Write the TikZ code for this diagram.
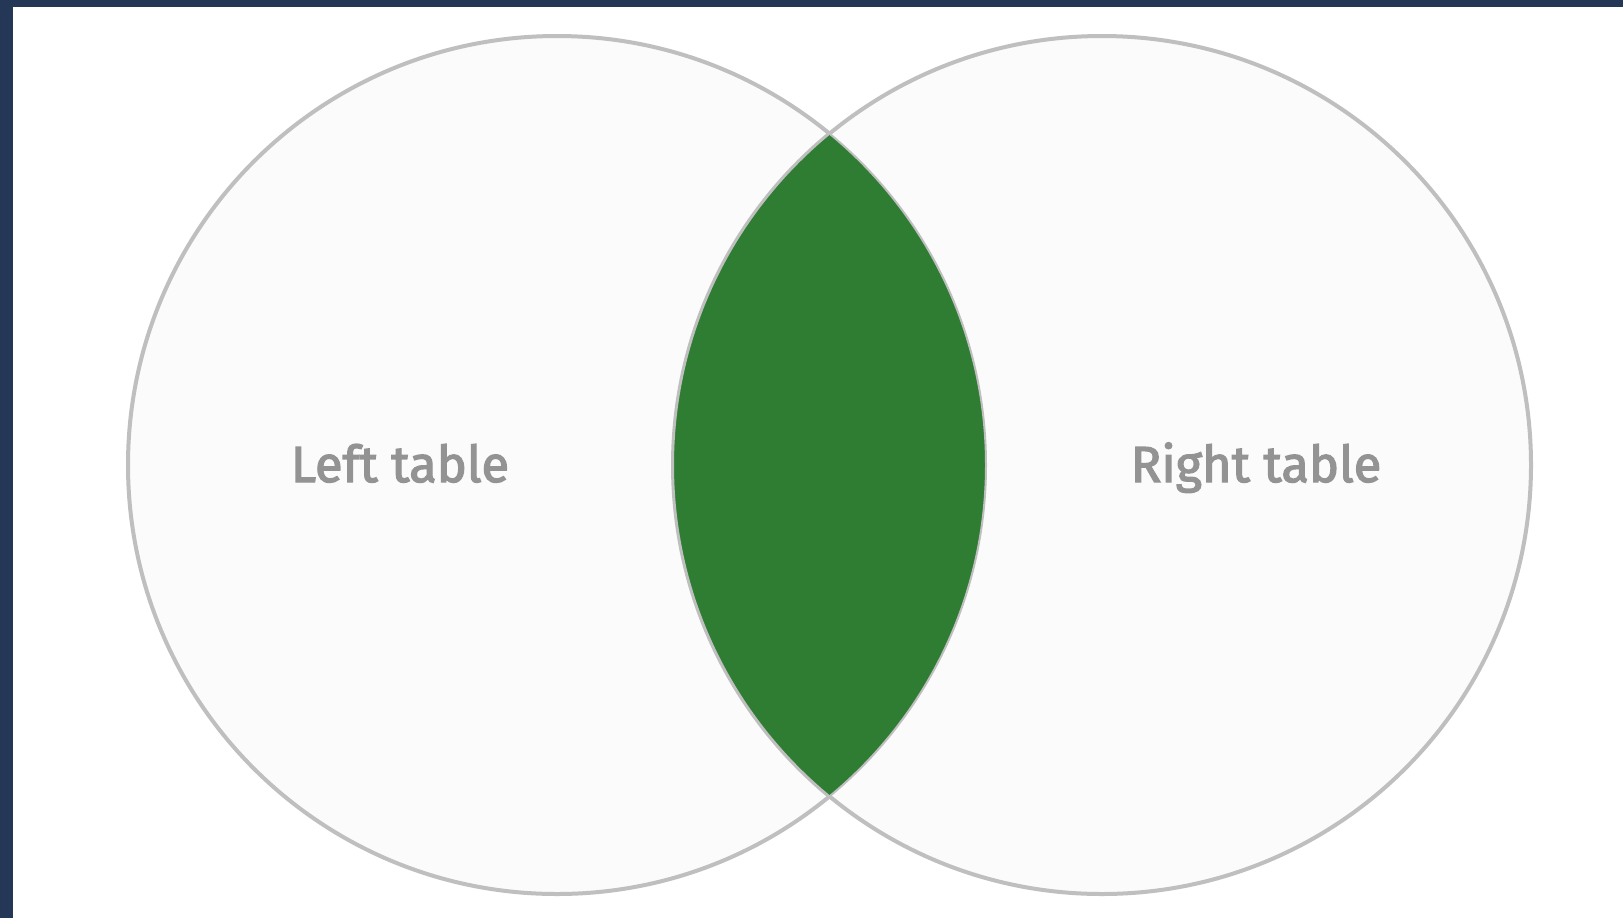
\documentclass[tikz,border=0pt]{standalone}
\usepackage{fontspec}
\setmainfont{PT Sans}
\newfontfamily\lblfont[FakeBold=2.5]{Fira Sans}
\definecolor{navybar}{HTML}{243757}
\definecolor{ringgray}{HTML}{BFBFBF}
\definecolor{setfill}{HTML}{FBFBFB}
\definecolor{lensgreen}{HTML}{2F7C33}
\definecolor{labelgray}{HTML}{939393}
\tikzset{
  setcircle/.style={circle, draw=ringgray, line width=3pt, fill=setfill, minimum size=643.5pt, inner sep=0pt},
  setlabel/.style={text=labelgray, font=\lblfont\fontsize{38}{42}\selectfont, inner sep=0pt, anchor=base}
}
\begin{document}
\begin{tikzpicture}[x=0.75pt,y=-0.75pt]
\useasboundingbox (0,0) rectangle (1623,918);
\fill[navybar] (0,0) rectangle (1623,918);
\fill[white] (13,7) rectangle (1623,918);
\node[setcircle] (L) at (557,465) {};
\node[setcircle] (R) at (1102,465) {};
\begin{scope}
  \clip (L.center) circle[radius=429];
  \fill[lensgreen] (R.center) circle[radius=429];
\end{scope}
\begin{scope}
  \clip (L.center) circle[radius=430];
  \draw[ringgray, line width=1.5pt] (R.center) circle[radius=429];
\end{scope}
\begin{scope}
  \clip (R.center) circle[radius=430];
  \draw[ringgray, line width=1.5pt] (L.center) circle[radius=429];
\end{scope}
\node[setlabel] (lt) at (400,482) {Left table};
\node[setlabel] (rt) at (1256,482) {Right table};
\end{tikzpicture}
\end{document}
